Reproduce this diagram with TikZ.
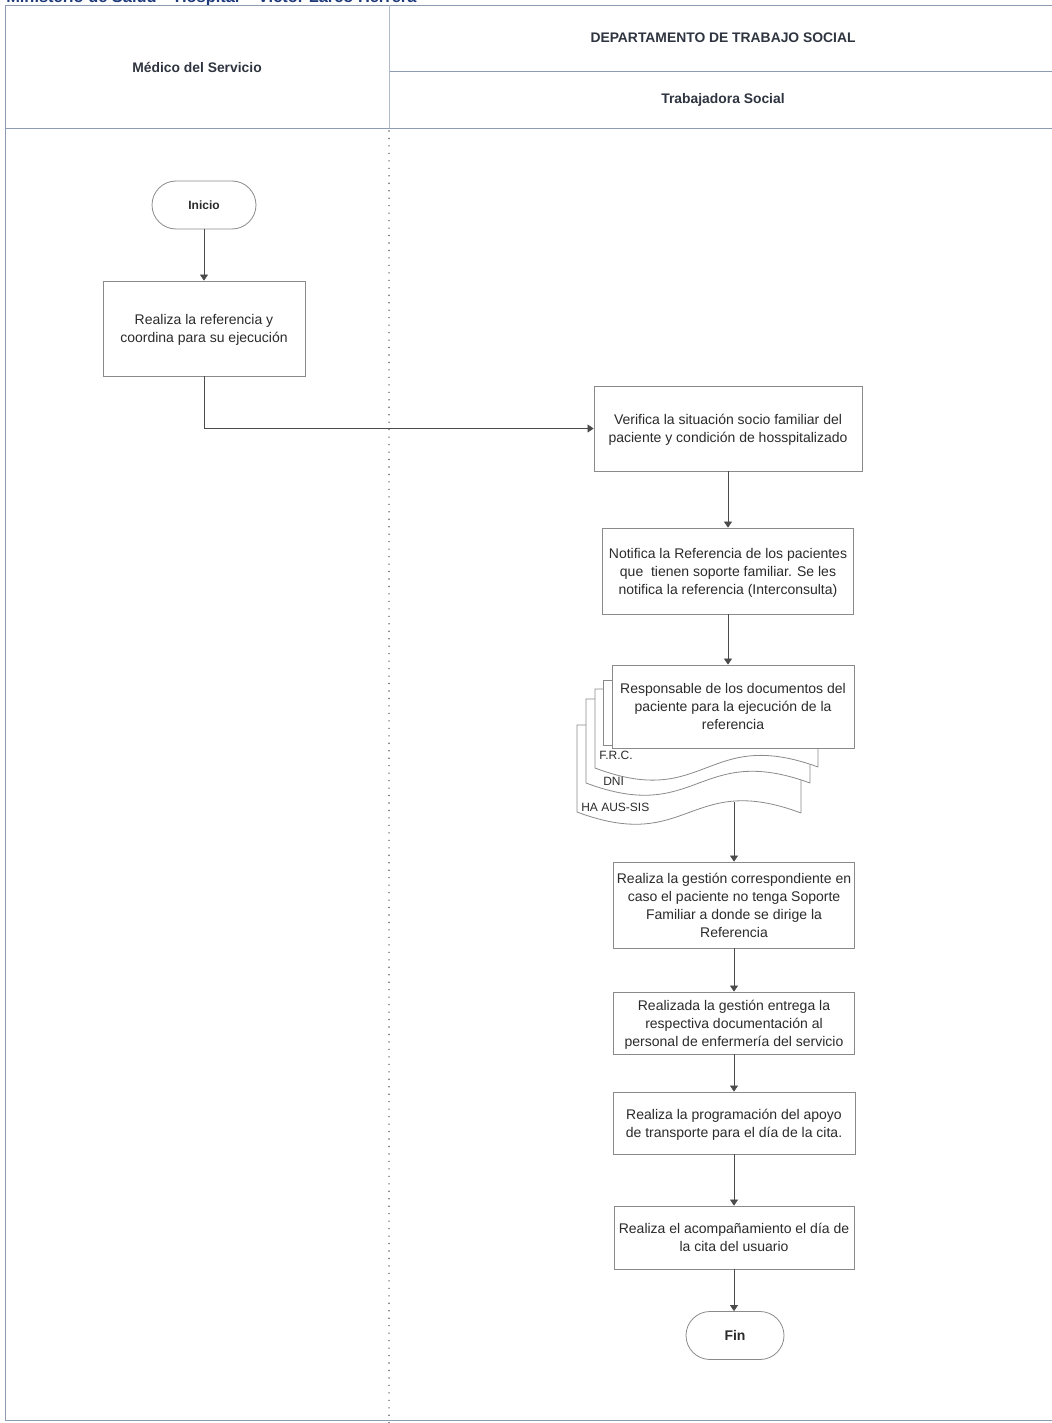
\documentclass[tikz,border=0pt]{standalone}
\usepackage{fontspec}
\setmainfont{Liberation Sans}
\usetikzlibrary{arrows.meta}
\newdimen\upx \upx=0.75pt
\definecolor{frameline}{HTML}{8E9CB3}
\definecolor{boxline}{HTML}{8A8A8A}
\definecolor{ink}{HTML}{2B2B2B}
\definecolor{hdrink}{HTML}{2F3540}
\definecolor{titleblue}{HTML}{1F3A7A}
\begin{document}
\begin{tikzpicture}[x=0.75pt,y=-0.75pt,
  box/.style={draw=boxline, line width=0.6pt, fill=white, align=center,
    text=ink, inner sep=0pt, text depth=0pt, font=\fontsize{10.5}{13.5}\selectfont},
  term/.style={box, rounded corners=18pt, text depth=, font=\bfseries\fontsize{9}{11}\selectfont},
  hdr/.style={text=hdrink, inner sep=0pt, font=\bfseries\fontsize{10.4}{12}\selectfont},
  doclabel/.style={text=ink, inner sep=0pt, anchor=west, font=\fontsize{9}{11}\selectfont},
  docline/.style={draw=boxline, line width=0.6pt, fill=white},
  flow/.style={draw=ink!85, line width=0.5pt, -{Triangle[length=4.5pt,width=6pt]}},
  lane/.style={draw=frameline, line width=0.6pt},
  lanedots/.style={draw=black!60, line width=1.2pt, line cap=round, dash pattern=on 0pt off 5.6pt}]

\useasboundingbox (0,0) rectangle (1052,1423);
\clip (0,0) rectangle (1052,1423);

% page title, partly cut by the top edge
\node[anchor=base west, text=titleblue, inner sep=0pt,
  font=\bfseries\fontsize{12.3}{14}\selectfont] (title) at (6,3)
  {Ministerio de Salud – Hospital – Víctor Larco Herrera};

% swimlane frame
\draw[lane] (1060,5) -- (5,5) -- (5,1420) -- (1060,1420);
\draw[lane] (5,128) -- (1060,128);
\draw[lane] (389,71) -- (1060,71);
\draw[lane, draw=frameline!70] (389,5) -- (389,128);
\draw[lanedots] (389,131) -- (389,1423);

% lane headers
\node[hdr] (medico) at (197,67) {Médico del Servicio};
\node[hdr] (depto) at (723,38) {DEPARTAMENTO DE TRABAJO SOCIAL};
\node[hdr] (trab) at (723,100) {Trabajadora Social};

% flow steps
\node[term, minimum width=104\upx, minimum height=48\upx] (ini) at (204,205) {Inicio};
\node[box, minimum width=202\upx, minimum height=95\upx] (b1) at (204,328.5)
  {Realiza la referencia y\\coordina para su ejecución};
\node[box, minimum width=268\upx, minimum height=85\upx] (b2) at (728,428.5)
  {Verifica la situación socio familiar del\\paciente y condición de hosspitalizado};
\node[box, minimum width=251\upx, minimum height=86\upx] (b3) at (728,571)
  {Notifica la Referencia de los pacientes\\que \ tienen soporte familiar. Se les\\notifica la referencia (Interconsulta)};

% stack of documents behind the responsibility step
\draw[docline] (801,813) -- (801,725) -- (577,725) -- (577,812)
  .. controls (689,854) and (689,771) .. (801,813);
\draw[docline] (810,783) -- (810,699) -- (586,699) -- (586,783)
  .. controls (698,825) and (698,742) .. (810,783);
\draw[docline] (818,767) -- (818,689) -- (595,689) -- (595,768)
  .. controls (706,810) and (706,726) .. (818,767);
\draw[docline] (830,745) -- (830,680) -- (603,680) -- (603,745) -- cycle;
\node[doclabel] (frc) at (599,755) {F.R.C.};
\node[doclabel] (dni) at (603,781) {DNI};
\node[doclabel] (aus) at (581,807) {HA AUS-SIS};
\coordinate (stackout) at (734,802);

\node[box, minimum width=242\upx, minimum height=83\upx] (b4) at (733,706.5)
  {Responsable de los documentos del\\paciente para la ejecución de la\\referencia};
\node[box, minimum width=241\upx, minimum height=86\upx] (b5) at (734,905)
  {Realiza la gestión correspondiente en\\caso el paciente no tenga Soporte\\Familiar a donde se dirige la\\Referencia};
\node[box, minimum width=241\upx, minimum height=62\upx] (b6) at (734,1023)
  {Realizada la gestión entrega la\\respectiva documentación al\\personal de enfermería del servicio};
\node[box, minimum width=242\upx, minimum height=62\upx] (b7) at (734,1123)
  {Realiza la programación del apoyo\\de transporte para el día de la cita.};
\node[box, minimum width=240\upx, minimum height=63\upx] (b8) at (734,1237.5)
  {Realiza el acompañamiento el día de\\la cita del usuario};
\node[term, minimum width=98\upx, minimum height=48\upx,
  font=\bfseries\fontsize{10.5}{12}\selectfont] (fin) at (735,1335.5) {Fin};

% connectors
\draw[flow] (ini.south) -- (b1.north);
\draw[flow] (b1.south) |- (b2.west);
\draw[flow] (b2.south) -- (b3.north);
\draw[flow] (b3.south) -- (b3.south |- b4.north);
\draw[flow] (stackout) -- (stackout |- b5.north);
\draw[flow] (b5.south) -- (b6.north);
\draw[flow] (b6.south) -- (b7.north);
\draw[flow] (b7.south) -- (b8.north);
\draw[flow] (b8.south) -- (b8.south |- fin.north);
\end{tikzpicture}
\end{document}
